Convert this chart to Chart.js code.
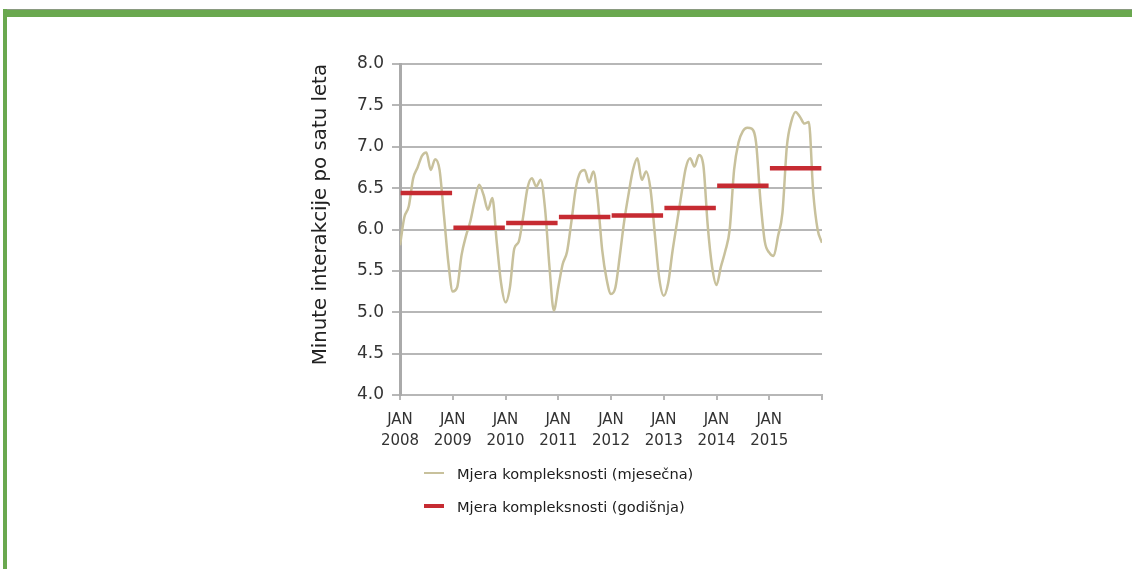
<!DOCTYPE html>
<html>
<head>
<meta charset="utf-8">
<script src="https://cdn.jsdelivr.net/npm/chart.js@4/dist/chart.umd.min.js"></script>
<style>
  html, body { margin: 0; padding: 0; background: #ffffff; }
  body { width: 1132px; height: 569px; position: relative; overflow: hidden; font-family: "DejaVu Sans", sans-serif; }
  #frameTop { position: absolute; left: 3px; top: 9px; width: 1129px; height: 8px; background: #6aa84f; border-top: 1px solid #8a9a80; box-sizing: border-box; }
  #frameLeft { position: absolute; left: 3px; top: 9px; width: 4px; height: 560px; background: #6aa84f; }
  #chartBox { position: absolute; left: 0; top: 0; width: 1132px; height: 569px; }
  .leg { position: absolute; left: 424px; height: 20px; display: flex; align-items: center; font-size: 14.6px; color: #1c1c1c; white-space: nowrap; }
  .leg .sw { display: inline-block; width: 20px; margin-right: 13px; }
</style>
</head>
<body>
<div id="chartBox"><canvas id="c" width="1132" height="569"></canvas></div>
<div id="frameTop"></div>
<div id="frameLeft"></div>
<div class="leg" style="top:463px;"><span class="sw" style="height:2px;background:#c8c19c;"></span><span id="leg1"></span></div>
<div class="leg" style="top:496px;"><span class="sw" style="height:4px;background:#c62b32;"></span><span id="leg2"></span></div>
<script>
// ---- data ----
const years = [2008, 2009, 2010, 2011, 2012, 2013, 2014, 2015];
const monthLabel = 'JAN';
const yTitle = 'Minute interakcije po satu leta';
const seriesMonthlyName = 'Mjera kompleksnosti (mjesečna)';
const seriesAnnualName = 'Mjera kompleksnosti (godišnja)';
// monthly values, Jan 2008 .. Jan 2016
const monthly = [
  5.81, 6.15, 6.28, 6.62, 6.75, 6.89, 6.93, 6.72, 6.85, 6.72, 6.17, 5.60,
  5.25, 5.30, 5.69, 5.92, 6.10, 6.35, 6.54, 6.42, 6.24, 6.38, 5.85, 5.35,
  5.12, 5.30, 5.77, 5.85, 6.15, 6.50, 6.62, 6.52, 6.60, 6.25, 5.55, 5.02,
  5.30, 5.58, 5.73, 6.10, 6.50, 6.69, 6.72, 6.57, 6.70, 6.35, 5.75, 5.40,
  5.22, 5.30, 5.68, 6.10, 6.43, 6.72, 6.86, 6.60, 6.70, 6.48, 5.93, 5.40,
  5.20, 5.35, 5.74, 6.08, 6.42, 6.74, 6.86, 6.76, 6.90, 6.78, 6.05, 5.55,
  5.33, 5.55, 5.74, 6.00, 6.72, 7.05, 7.19, 7.23, 7.22, 7.05, 6.35, 5.85,
  5.72, 5.68, 5.92, 6.20, 7.00, 7.30, 7.42, 7.36, 7.28, 7.30, 6.45, 6.00,
  5.84
];
// annual values, 2008 .. 2015
const annual = [6.44, 6.02, 6.08, 6.15, 6.17, 6.26, 6.53, 6.74];
const yTicks = [4.0, 4.5, 5.0, 5.5, 6.0, 6.5, 7.0, 7.5, 8.0];

document.getElementById('leg1').textContent = seriesMonthlyName;
document.getElementById('leg2').textContent = seriesAnnualName;

const monthlyPts = monthly.map((v, i) => ({ x: i, y: v }));
const annualPts = [];
annual.forEach((v, k) => {
  annualPts.push({ x: 12 * k + 0.15, y: v });
  annualPts.push({ x: 12 * k + 11.85, y: v });
  annualPts.push({ x: 12 * k + 12, y: null });
});

const gridCol = '#b7b7b7';
const textCol = '#333333';

new Chart(document.getElementById('c'), {
  type: 'line',
  data: {
    datasets: [
      {
        label: seriesAnnualName,
        data: annualPts,
        borderColor: '#c62b32',
        borderWidth: 4.5,
        borderCapStyle: 'butt',
        pointRadius: 0,
        tension: 0,
        spanGaps: false,
        order: 0
      },
      {
        label: seriesMonthlyName,
        data: monthlyPts,
        borderColor: '#c8c19c',
        borderWidth: 2.5,
        pointRadius: 0,
        cubicInterpolationMode: 'monotone',
        order: 1
      }
    ]
  },
  options: {
    responsive: false,
    animation: false,
    devicePixelRatio: 1,
    layout: { padding: { left: 305, right: 310, top: 64, bottom: 114 } },
    plugins: { legend: { display: false }, tooltip: { enabled: false } },
    scales: {
      x: {
        type: 'linear',
        min: 0,
        max: 96,
        afterBuildTicks: (s) => { s.ticks = [0,12,24,36,48,60,72,84,96].map(v => ({ value: v })); },
        afterFit: (s) => { s.height = 60; },
        ticks: {
          autoSkip: false,
          maxRotation: 0,
          padding: 9,
          color: textCol,
          font: { family: 'DejaVu Sans', size: 15, lineHeight: 1.43 },
          callback: (v) => { const k = Math.round(v / 12); return k < years.length ? [monthLabel, String(years[k])] : ''; }
        },
        grid: { display: true, drawOnChartArea: false, drawTicks: true, tickLength: 5, color: gridCol, lineWidth: 2 },
        border: { display: true, color: gridCol, width: 2 }
      },
      y: {
        min: 4,
        max: 8,
        afterBuildTicks: (s) => { s.ticks = yTicks.map(v => ({ value: v })); },
        afterFit: (s) => { s.width = 95; },
        ticks: {
          padding: 8,
          color: textCol,
          font: { family: 'DejaVu Sans', size: 17 },
          callback: (v) => Number(v).toFixed(1)
        },
        grid: { color: gridCol, lineWidth: 2, tickLength: 8, drawTicks: true },
        border: { display: true, color: '#aaaaaa', width: 3 },
        title: {
          display: true,
          text: yTitle,
          align: 'end',
          color: '#222222',
          font: { family: 'DejaVu Sans', size: 19.8 },
          padding: { top: 4, bottom: 4 }
        }
      }
    }
  }
});
</script>
</body>
</html>
